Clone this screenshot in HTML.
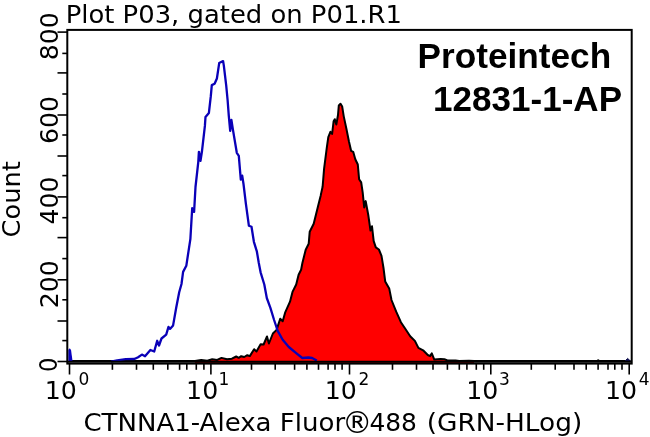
<!DOCTYPE html>
<html><head><meta charset="utf-8"><title>Plot P03</title>
<style>
html,body{margin:0;padding:0;background:#fff;}
svg{display:block}
text{font-family:"DejaVu Sans","Liberation Sans",sans-serif;fill:#000}
.b{font-family:"Liberation Sans",sans-serif;font-weight:bold}
</style></head><body>
<svg width="650" height="437" viewBox="0 0 650 437">
<rect width="650" height="437" fill="#fff"/>
<polygon points="195.0,361.1 201.2,360.1 207.3,360.7 212.2,359.2 217.2,359.9 221.5,357.9 227.0,359.3 231.9,358.7 236.2,356.5 238.7,357.8 241.2,356.2 244.2,357.0 247.3,355.2 249.8,356.1 254.1,349.2 256.5,351.5 260.6,344.2 263.6,344.5 267.0,336.5 268.9,343.5 272.9,333.5 276.6,329.9 280.2,318.8 282.7,321.3 285.1,312.7 290.0,301.7 292.5,291.9 296.2,284.5 298.6,274.7 301.1,269.8 302.4,263.0 305.7,249.7 308.7,243.7 309.7,231.8 313.7,223.8 317.6,207.9 320.6,195.9 322.6,186.8 324.1,168.7 326.8,147.6 328.3,137.1 330.4,131.8 332.1,133.9 333.6,121.3 334.8,119.2 336.3,124.5 338.0,115.0 338.8,105.5 340.5,103.8 342.2,106.6 343.7,116.1 346.4,128.7 348.9,141.3 351.1,150.8 353.2,151.8 355.3,159.2 357.8,164.5 359.1,179.2 361.2,182.4 362.7,192.6 364.2,207.4 365.7,201.1 368.4,215.8 370.5,230.5 372.0,226.3 373.7,241.1 375.8,247.4 378.9,249.5 381.5,255.8 383.5,268.0 385.2,281.4 389.2,288.4 391.5,300.0 396.2,311.7 400.9,322.2 405.6,329.3 410.2,336.3 414.9,340.9 418.4,347.9 423.1,350.3 427.8,355.0 430.1,356.1 431.8,353.4 434.3,359.6 440.6,358.9 444.4,359.2 448.1,360.6 455.5,360.4 459.2,361.1 469.0,360.7 474.0,361.1 474,363 195,363" fill="#ff0000" stroke="none"/>
<polyline points="69.0,361.1 120.0,361.1 150.0,361.1 170.0,361.1 195.0,361.1 201.2,360.1 207.3,360.7 212.2,359.2 217.2,359.9 221.5,357.9 227.0,359.3 231.9,358.7 236.2,356.5 238.7,357.8 241.2,356.2 244.2,357.0 247.3,355.2 249.8,356.1 254.1,349.2 256.5,351.5 260.6,344.2 263.6,344.5 267.0,336.5 268.9,343.5 272.9,333.5 276.6,329.9 280.2,318.8 282.7,321.3 285.1,312.7 290.0,301.7 292.5,291.9 296.2,284.5 298.6,274.7 301.1,269.8 302.4,263.0 305.7,249.7 308.7,243.7 309.7,231.8 313.7,223.8 317.6,207.9 320.6,195.9 322.6,186.8 324.1,168.7 326.8,147.6 328.3,137.1 330.4,131.8 332.1,133.9 333.6,121.3 334.8,119.2 336.3,124.5 338.0,115.0 338.8,105.5 340.5,103.8 342.2,106.6 343.7,116.1 346.4,128.7 348.9,141.3 351.1,150.8 353.2,151.8 355.3,159.2 357.8,164.5 359.1,179.2 361.2,182.4 362.7,192.6 364.2,207.4 365.7,201.1 368.4,215.8 370.5,230.5 372.0,226.3 373.7,241.1 375.8,247.4 378.9,249.5 381.5,255.8 383.5,268.0 385.2,281.4 389.2,288.4 391.5,300.0 396.2,311.7 400.9,322.2 405.6,329.3 410.2,336.3 414.9,340.9 418.4,347.9 423.1,350.3 427.8,355.0 430.1,356.1 431.8,353.4 434.3,359.6 440.6,358.9 444.4,359.2 448.1,360.6 455.5,360.4 459.2,361.1 469.0,360.7 474.0,361.1 500.0,361.1 560.0,361.1 597.2,361.1 598.2,360.2 599.2,361.1 630.5,361.1" fill="none" stroke="#000" stroke-width="2" stroke-linejoin="round"/>
<polyline points="111.0,361.6 117.2,360.4 125.8,359.2 134.4,359.0 138.1,357.2 141.9,354.6 145.0,356.2 150.4,350.0 154.2,351.5 157.2,340.8 159.0,345.5 161.5,338.5 166.2,334.6 168.5,326.9 170.0,328.9 173.1,325.4 176.2,307.7 179.2,292.3 181.5,284.0 183.1,271.9 186.3,265.8 190.4,238.8 192.2,208.2 194.1,211.9 195.5,187.0 198.3,161.8 198.9,151.8 200.5,160.8 201.9,151.8 204.9,125.9 205.5,116.9 208.9,112.9 210.8,96.2 211.8,85.1 214.6,83.8 216.9,78.5 219.2,63.1 223.1,61.1 223.8,65.4 226.2,85.4 227.6,100.0 228.8,115.9 230.2,130.9 231.4,119.9 232.8,128.9 236.8,152.8 238.8,155.8 240.8,179.7 242.2,175.7 243.5,184.0 245.9,203.9 248.9,225.8 251.5,226.8 253.9,241.8 256.9,251.7 258.8,263.0 260.6,272.3 264.3,284.5 266.8,298.0 270.4,307.8 274.1,320.0 277.8,331.1 282.7,339.7 288.8,347.0 296.2,353.1 302.3,358.0 308.4,357.5 312.1,358.0 316.8,360.6" fill="none" stroke="#0a00b8" stroke-width="2.3" stroke-linejoin="round"/>
<path d="M68.3,361.5 L68.3,350 Q69.9,346.8 71.1,350.5 L72.6,361.5 Z" fill="#0a00c0"/>
<path d="M625,361 L627.6,358.4 L630.4,361 Z" fill="#101050" stroke="#101050" stroke-width="1" stroke-linejoin="round"/>
<line x1="67" y1="361.7" x2="631" y2="361.7" stroke="#000" stroke-width="2"/>
<rect x="67.3" y="29.9" width="564.4" height="333.7" fill="none" stroke="#000" stroke-width="2"/>
<g stroke="#000" stroke-width="1.6"><line x1="69.5" y1="363" x2="69.5" y2="374.5"/><line x1="210.9" y1="363" x2="210.9" y2="374.5"/><line x1="349.5" y1="363" x2="349.5" y2="374.5"/><line x1="490.8" y1="363" x2="490.8" y2="374.5"/><line x1="629.2" y1="363" x2="629.2" y2="374.5"/><line x1="112.4" y1="363" x2="112.4" y2="369.8"/><line x1="136.5" y1="363" x2="136.5" y2="369.8"/><line x1="153.3" y1="363" x2="153.3" y2="369.8"/><line x1="167.8" y1="363" x2="167.8" y2="369.8"/><line x1="179.6" y1="363" x2="179.6" y2="369.8"/><line x1="186.8" y1="363" x2="186.8" y2="369.8"/><line x1="196.3" y1="363" x2="196.3" y2="369.8"/><line x1="203.9" y1="363" x2="203.9" y2="369.8"/><line x1="251.5" y1="363" x2="251.5" y2="369.8"/><line x1="275.2" y1="363" x2="275.2" y2="369.8"/><line x1="294.6" y1="363" x2="294.6" y2="369.8"/><line x1="306.9" y1="363" x2="306.9" y2="369.8"/><line x1="318.5" y1="363" x2="318.5" y2="369.8"/><line x1="328.1" y1="363" x2="328.1" y2="369.8"/><line x1="335.0" y1="363" x2="335.0" y2="369.8"/><line x1="342.1" y1="363" x2="342.1" y2="369.8"/><line x1="392.5" y1="363" x2="392.5" y2="369.8"/><line x1="416.5" y1="363" x2="416.5" y2="369.8"/><line x1="433" y1="363" x2="433" y2="369.8"/><line x1="447.4" y1="363" x2="447.4" y2="369.8"/><line x1="459.3" y1="363" x2="459.3" y2="369.8"/><line x1="466.9" y1="363" x2="466.9" y2="369.8"/><line x1="476.3" y1="363" x2="476.3" y2="369.8"/><line x1="483.7" y1="363" x2="483.7" y2="369.8"/><line x1="531.3" y1="363" x2="531.3" y2="369.8"/><line x1="555.2" y1="363" x2="555.2" y2="369.8"/><line x1="574" y1="363" x2="574" y2="369.8"/><line x1="586.2" y1="363" x2="586.2" y2="369.8"/><line x1="598.1" y1="363" x2="598.1" y2="369.8"/><line x1="608" y1="363" x2="608" y2="369.8"/><line x1="614.8" y1="363" x2="614.8" y2="369.8"/><line x1="622" y1="363" x2="622" y2="369.8"/><line x1="57.5" y1="361.50" x2="67" y2="361.50"/><line x1="57.5" y1="321.00" x2="67" y2="321.00"/><line x1="57.5" y1="279.80" x2="67" y2="279.80"/><line x1="57.5" y1="237.60" x2="67" y2="237.60"/><line x1="57.5" y1="196.90" x2="67" y2="196.90"/><line x1="57.5" y1="156.00" x2="67" y2="156.00"/><line x1="57.5" y1="115.00" x2="67" y2="115.00"/><line x1="57.5" y1="72.90" x2="67" y2="72.90"/><line x1="57.5" y1="32.10" x2="67" y2="32.10"/><line x1="62.3" y1="340.60" x2="67" y2="340.60"/><line x1="62.3" y1="299.80" x2="67" y2="299.80"/><line x1="62.3" y1="258.60" x2="67" y2="258.60"/><line x1="62.3" y1="217.70" x2="67" y2="217.70"/><line x1="62.3" y1="175.60" x2="67" y2="175.60"/><line x1="62.3" y1="135.00" x2="67" y2="135.00"/><line x1="62.3" y1="94.00" x2="67" y2="94.00"/><line x1="62.3" y1="53.40" x2="67" y2="53.40"/></g>
<text x="65.7" y="22.6" font-size="24" textLength="336.3" lengthAdjust="spacingAndGlyphs">Plot P03, gated on P01.R1</text>
<text><tspan x="44.7" y="398.5" font-size="25.5" textLength="32.1" lengthAdjust="spacingAndGlyphs">10</tspan><tspan x="78.6" y="384.9" font-size="17">0</tspan></text><text><tspan x="186.1" y="398.5" font-size="25.5" textLength="32.1" lengthAdjust="spacingAndGlyphs">10</tspan><tspan x="218.5" y="384.9" font-size="17">1</tspan></text><text><tspan x="324.7" y="398.5" font-size="25.5" textLength="32.1" lengthAdjust="spacingAndGlyphs">10</tspan><tspan x="358.6" y="384.9" font-size="17">2</tspan></text><text><tspan x="466.2" y="398.5" font-size="25.5" textLength="32.1" lengthAdjust="spacingAndGlyphs">10</tspan><tspan x="499.1" y="384.9" font-size="17">3</tspan></text><text><tspan x="604.9" y="398.5" font-size="25.5" textLength="32.1" lengthAdjust="spacingAndGlyphs">10</tspan><tspan x="638.8" y="384.9" font-size="17">4</tspan></text>
<text transform="translate(56.9 364.85) rotate(-90)" text-anchor="middle" font-size="25.5" textLength="14.4" lengthAdjust="spacingAndGlyphs">0</text><text transform="translate(57.6 284.3) rotate(-90)" text-anchor="middle" font-size="25.5" textLength="48" lengthAdjust="spacingAndGlyphs">200</text><text transform="translate(57.6 200.55) rotate(-90)" text-anchor="middle" font-size="25.5" textLength="48" lengthAdjust="spacingAndGlyphs">400</text><text transform="translate(57.6 119.9) rotate(-90)" text-anchor="middle" font-size="25.5" textLength="48" lengthAdjust="spacingAndGlyphs">600</text><text transform="translate(57.6 36.3) rotate(-90)" text-anchor="middle" font-size="25.5" textLength="48" lengthAdjust="spacingAndGlyphs">800</text>
<text transform="translate(20.4 199.3) rotate(-90)" text-anchor="middle" font-size="24.8" textLength="76.2" lengthAdjust="spacingAndGlyphs">Count</text>
<text font-size="24.6"><tspan x="83.4" y="430.5" textLength="261.8" lengthAdjust="spacingAndGlyphs">CTNNA1-Alexa Fluor</tspan><tspan x="342" y="433.3" font-size="30.4">®</tspan><tspan x="369.4" y="430.5" textLength="47.6" lengthAdjust="spacingAndGlyphs">488</tspan><tspan x="418.3" y="430.5" textLength="163.9" lengthAdjust="spacingAndGlyphs"> (GRN-HLog)</tspan></text>
<text class="b" x="417.6" y="67.7" font-size="35.2" textLength="193.6" lengthAdjust="spacingAndGlyphs">Proteintech</text>
<text class="b" x="433.1" y="110.8" font-size="35.2" textLength="188.9" lengthAdjust="spacingAndGlyphs">12831-1-AP</text>
</svg>
</body></html>
